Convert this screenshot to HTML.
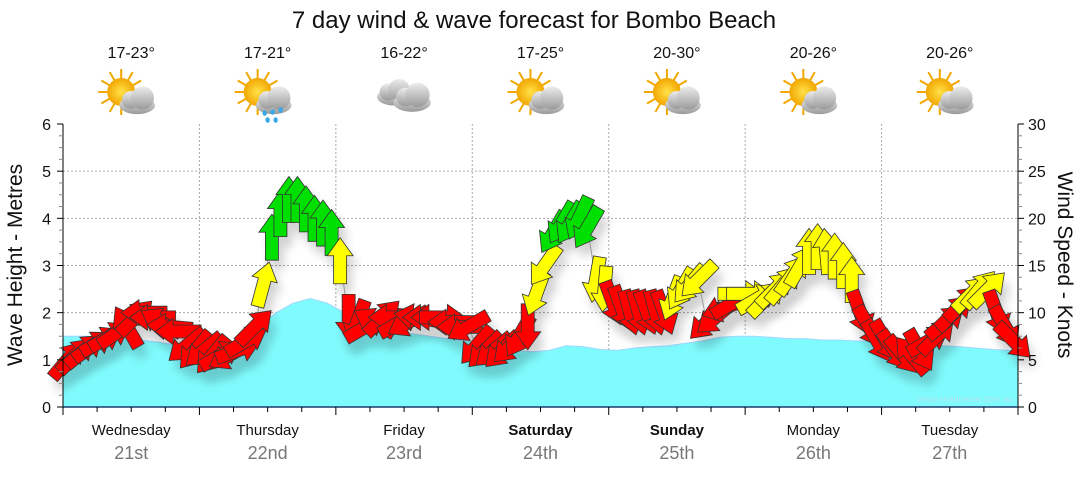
<!DOCTYPE html>
<html><head><meta charset="utf-8"><style>
body{margin:0;background:#fff;font-family:"Liberation Sans",sans-serif;}
svg text{font-family:"Liberation Sans","DejaVu Sans",sans-serif;}
</style></head><body>
<svg id="chart" width="1080" height="475" viewBox="0 0 1080 475" xmlns="http://www.w3.org/2000/svg">
<defs>
<radialGradient id="sunG" cx="0.5" cy="0.5" r="0.5"><stop offset="0" stop-color="#ffe24a"/><stop offset="1" stop-color="#f2a600"/></radialGradient>
<linearGradient id="cloudG" x1="0" y1="0" x2="0" y2="1"><stop offset="0" stop-color="#ececec"/><stop offset="1" stop-color="#9a9a9a"/></linearGradient>
<filter id="shadow" x="-50%" y="-50%" width="200%" height="200%"><feGaussianBlur stdDeviation="5"/></filter>
</defs>
<text x="534" y="28" font-size="24" text-anchor="middle" fill="#111">7 day wind &amp; wave forecast for Bombo Beach</text>
<g id="grid"></g>
<g id="waves"></g>
<g id="shadows" opacity="0.18"></g>
<g id="windline"></g>
<g id="arrows"></g>
<g id="axes"></g>
<g id="icons"></g>
<text transform="translate(22,265) rotate(-90)" font-size="21" text-anchor="middle" fill="#111">Wave Height - Metres</text>
<text transform="translate(1058,265) rotate(90)" font-size="21" text-anchor="middle" fill="#111">Wind Speed - Knots</text>
<text x="1013" y="402" font-size="9" text-anchor="end" fill="#aee6ee">www.seabreeze.com.au</text>
</svg>
<script>
const days = ["Wednesday","Thursday","Friday","Saturday","Sunday","Monday","Tuesday"];
const dates = ["21st","22nd","23rd","24th","25th","26th","27th"];
const boldDays = [false,false,false,true,true,false,false];
const temps = ["17-23°","17-21°","16-22°","17-25°","20-30°","20-26°","20-26°"];
const weather = ["partly","rain","cloudy","partly","partly","partly","partly"];
const waveTicks = [0,1,2,3,4,5,6];
const windTicks = [0,5,10,15,20,25,30];
// 3-hourly wave heights (8 per day)
const waveHeight = [1.5,1.5,1.48,1.45,1.42,1.38,1.32,1.27, 1.25,1.25,1.28,1.7,2.0,2.2,2.3,2.2, 2.0,1.8,1.7,1.6,1.55,1.5,1.45,1.4, 1.35,1.3,1.2,1.17,1.2,1.3,1.28,1.22, 1.2,1.25,1.28,1.3,1.35,1.4,1.48,1.5, 1.5,1.48,1.45,1.45,1.42,1.42,1.4,1.4, 1.35,1.3,1.3,1.3,1.28,1.25,1.22,1.2];
// 1.5-hourly wind (16 per day)
const windSpeed = [
 5,5.5,6,6.5,7,7.5,8,8.5,9.5,10,9.5,9,8.5,8,6.5,6,
 6,5.5,5.5,5.5,6,7,8.5,13,18,20.5,22,22,21,20,19.5,18.5,
 15.5,9.5,9,8.5,9,9.5,9.5,9,9,9.5,9.5,9.5,9.5,9,8.5,8.5,
 6.5,6,6,6,6.5,7.5,8.5,12,15,18.5,19.5,19.5,20,19,13.5,12.5,
 11,10.5,10,10,10,10,10,11.5,12.5,13,13.5,9,9.5,10.5,11,12,
 12,11.5,11.5,12.5,13,14,15,16.5,17,16.5,16,15,13.5,10,8.5,7,
 7,6,5.5,5.5,6,7,7.5,9,10,11,12,12.5,12.5,10,8.5,7];
const windDir = [
 40,45,50,55,60,60,55,330,45,270,270,300,275,270,230,220,
 230,220,60,240,70,60,45,15,0,0,0,0,0,0,0,0,
 0,180,200,60,300,45,270,60,240,280,270,270,90,270,270,240,
 220,225,230,225,225,210,180,200,215,210,210,210,205,210,190,185,
 160,160,165,165,160,165,160,200,210,220,225,225,230,250,60,90,
 90,60,45,45,40,35,30,0,0,355,0,0,0,160,150,150,
 150,145,140,320,150,60,45,50,45,45,45,40,45,160,150,135];
const x0=63,x1=1018,yTop=124,yBot=407;
const dayW=(x1-x0)/7;
const NS="http://www.w3.org/2000/svg";
function xWave(i){return x0+(i+0.5)*dayW/8;}
function xWind(i){return x0+(i+0.5)*dayW/16;}
function yWave(v){return yBot-(v/6)*(yBot-yTop);}
function yWind(v){return yBot-(v/30)*(yBot-yTop);}
function mk(tag,attrs,parent){const e=document.createElementNS(NS,tag);for(const k in attrs)e.setAttribute(k,attrs[k]);parent.appendChild(e);return e;}
const grid=document.getElementById('grid'),axes=document.getElementById('axes');
for(let i=1;i<6;i++){const l=mk('line',{x1:x0,x2:x1,y1:yWave(i),y2:yWave(i),stroke:'#aaa','stroke-dasharray':'2,2'},grid);

}
for(let d=1;d<7;d++){const l=mk('line',{x1:x0+d*dayW,x2:x0+d*dayW,y1:yTop,y2:yBot,stroke:'#aaa','stroke-dasharray':'2,2'},grid);

}
let d='M'+x0+','+yBot+' L'+x0+','+yWave(waveHeight[0]);
waveHeight.forEach((v,i)=>{d+=' L'+xWave(i).toFixed(1)+','+yWave(v).toFixed(1);});
d+=' L'+x1+','+yWave(waveHeight[waveHeight.length-1])+' L'+x1+','+yBot+' Z';
const wa=mk('path',{d:d,fill:'#80fbfd',stroke:'#9fd8ff','stroke-width':1},document.getElementById('waves'));


let ld='';windSpeed.forEach((v,i)=>{ld+=(i?' L':'M')+xWind(i).toFixed(1)+','+yWind(v).toFixed(1);});
const wl=mk('path',{d:ld,fill:'none',stroke:'#999','stroke-width':1},document.getElementById('windline'));


const arrowPts="0,-23 13,-5 6.5,-5 6.5,23 -6.5,23 -6.5,-5 -13,-5";
function col(v){return v>=17.5?'#00e000':(v>=11.5?'#ffff00':'#ff0000');}
const sh=document.getElementById('shadows'),ar=document.getElementById('arrows');
windSpeed.forEach((v,i)=>{
 const x=xWind(i),y=yWind(v);
 const s=mk('polygon',{points:arrowPts,transform:`translate(${x+5},${y+10}) rotate(${windDir[i]})`,fill:'#000',filter:'url(#shadow)'},sh);
 
 
 const a=mk('polygon',{points:arrowPts,transform:`translate(${x},${y}) rotate(${windDir[i]})`,fill:col(v),stroke:'#333','stroke-width':0.8},ar);
 
 
});
mk('line',{x1:x0,x2:x0,y1:yTop,y2:yBot,stroke:'#000'},axes);
mk('line',{x1:x1,x2:x1,y1:yTop,y2:yBot,stroke:'#000'},axes);
mk('line',{x1:x0,x2:x1,y1:yBot,y2:yBot,stroke:'#1a3b6b','stroke-width':1.5},axes);
for(let v=0;v<=6.001;v+=0.25){const y=yWave(v);const maj=Math.abs(v-Math.round(v))<0.01;
 mk('line',{x1:x0-(maj?6:4),x2:x0,y1:y,y2:y,stroke:maj?'#000':'#888'},axes);
 mk('line',{x1:x1,x2:x1+(maj?6:4),y1:y,y2:y,stroke:maj?'#000':'#888'},axes);}
waveTicks.forEach(v=>{const t=mk('text',{x:x0-12,y:yWave(v)+6,'font-size':16,'text-anchor':'end',fill:'#111'},axes);t.textContent=v;

});
windTicks.forEach(v=>{const t=mk('text',{x:x1+10,y:yWind(v)+6,'font-size':16,'text-anchor':'start',fill:'#111'},axes);t.textContent=v;

});
for(let k=0;k<=28;k++){const x=x0+k*dayW/4;mk('line',{x1:x,x2:x,y1:yBot,y2:yBot+(k%4==0?8:5),stroke:'#000'},axes);}
const icons=document.getElementById('icons');
function cloud(g,cx,cy,s){
 mk('ellipse',{cx:cx,cy:cy+5*s,rx:17*s,ry:8.5*s,fill:'url(#cloudG)'},g);
 mk('circle',{cx:cx-6*s,cy:cy,r:8.5*s,fill:'url(#cloudG)'},g);
 mk('circle',{cx:cx+5*s,cy:cy-2*s,r:11*s,fill:'url(#cloudG)'},g);
}
days.forEach((name,i)=>{
 const cx=x0+i*dayW+dayW/2;
 const t=mk('text',{x:cx,y:435,'font-size':15,'text-anchor':'middle',fill:'#111','font-weight':boldDays[i]?'bold':'normal'},axes);t.textContent=name;
 
 
 const t2=mk('text',{x:cx,y:459,'font-size':18,'text-anchor':'middle',fill:'#777'},axes);t2.textContent=dates[i];
 
 
 const t3=mk('text',{x:cx,y:58,'font-size':16,'text-anchor':'middle',fill:'#111'},icons);t3.textContent=temps[i];
 
 
 const g=mk('g',{},icons);
 
 
 if(weather[i]==='cloudy'){cloud(g,cx-10,92,1.0);cloud(g,cx+8,97,1.1);}
 else{
  for(let k=0;k<12;k++){const a=k*Math.PI/6;mk('line',{x1:cx-10+Math.cos(a)*13,y1:92+Math.sin(a)*13,x2:cx-10+Math.cos(a)*23,y2:92+Math.sin(a)*23,stroke:'#f0a800','stroke-width':2},g);}
  mk('circle',{cx:cx-10,cy:92,r:14,fill:'url(#sunG)'},g);
  cloud(g,cx+6,100,1.05);
  if(weather[i]==='rain'){[[-3,113],[5,112],[13,110],[0,120],[8,120]].forEach(p=>mk('ellipse',{cx:cx+p[0],cy:p[1],rx:2.2,ry:2.8,fill:'#38a8e8'},g));}
 }
});
</script>
</body></html>
